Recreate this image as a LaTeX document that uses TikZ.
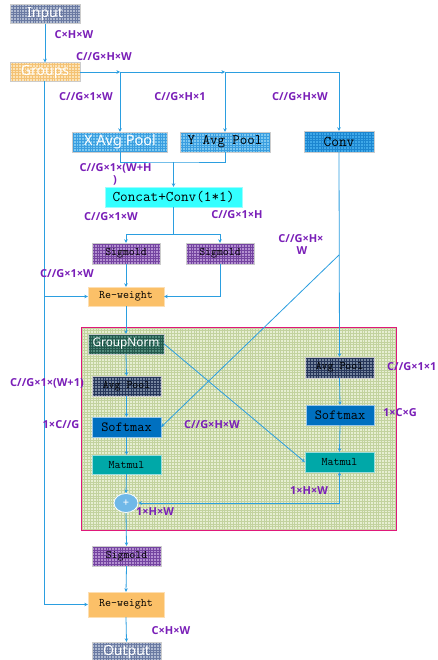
\documentclass[tikz,border=0pt]{standalone}
\usepackage{fontspec}
\usetikzlibrary{arrows.meta,shapes.geometric}
\newfontfamily\wfont{Noto Sans}
\newfontfamily\lfont{Open Sans}
\definecolor{lnblue}{HTML}{2B9EE0}
\definecolor{lblpurple}{HTML}{7A1FB8}
\definecolor{inpbase}{HTML}{AEB9D0}
\definecolor{inpgrid}{HTML}{6A7AA2}
\definecolor{grpbase}{HTML}{FCE3B6}
\definecolor{grpgrid}{HTML}{F4C274}
\definecolor{apbase}{HTML}{7DC8F0}
\definecolor{apgrid}{HTML}{3A9EE0}
\definecolor{convbase}{HTML}{3FA8E8}
\definecolor{convgrid}{HTML}{1C86D0}
\definecolor{catcol}{HTML}{33FFFF}
\definecolor{sigbase}{HTML}{B38FD0}
\definecolor{siggrid}{HTML}{7444A0}
\definecolor{rwcol}{HTML}{FBC068}
\definecolor{gnbase}{HTML}{4E8A7A}
\definecolor{gngrid}{HTML}{24584C}
\definecolor{dapbase}{HTML}{76869F}
\definecolor{dapgrid}{HTML}{27375A}
\definecolor{smcol}{HTML}{0070C0}
\definecolor{mmcol}{HTML}{00A8A8}
\definecolor{pluscol}{HTML}{70B8E8}
\definecolor{boxbase}{HTML}{E6EED2}
\definecolor{boxgrid}{HTML}{C2D29E}
\definecolor{boxborder}{HTML}{E0187A}
\tikzset{
  gridfill/.style 2 args={fill=#1, path picture={\draw[#2, line width=0.35pt, step=2.8pt] (path picture bounding box.south west) grid (path picture bounding box.north east);}},
  blk/.style={rectangle, inner sep=0pt, draw=white!60!gray, line width=0.4pt},
  wtxt/.style={text=white, font=\wfont\fontsize{14}{16}\selectfont},
  ttxt/.style={text=black, font=\ttfamily\fontsize{#1}{#1}\selectfont},
  conn/.style={draw=lnblue, line width=0.8pt},
  arr/.style={conn, -{Stealth[length=3.5pt,width=3.5pt]}},
  lbl/.style={text=lblpurple, font=\lfont\bfseries\fontsize{11}{12}\selectfont, inner sep=0pt},
}
\begin{document}
\begin{tikzpicture}[x=1pt,y=-1pt]
\useasboundingbox (0,0) rectangle (438,660);
\fill[white] (0,0) rectangle (438,660);
% big attention box
\node[rectangle, draw=boxborder, line width=1pt, gridfill={boxbase}{boxgrid}, minimum width=315pt, minimum height=203pt, inner sep=0pt] (bigbox) at (238.5,428.5) {};
% nodes
\node[blk, gridfill={inpbase}{inpgrid}, minimum width=70pt, minimum height=19pt, wtxt] (inp) at (45,14) {Input};
\node[blk, gridfill={grpbase}{grpgrid}, minimum width=70pt, minimum height=19pt, wtxt] (grp) at (45,72) {Groups};
\node[blk, gridfill={apbase}{apgrid}, minimum width=95pt, minimum height=20pt, wtxt, font=\wfont\fontsize{14.5}{16}\selectfont] (xap) at (120,142) {X Avg Pool};
\node[blk, gridfill={apbase}{apgrid}, minimum width=90pt, minimum height=20pt, ttxt=14.5] (yap) at (225,142) {Y Avg Pool};
\node[blk, gridfill={convbase}{convgrid}, minimum width=70pt, minimum height=21pt, ttxt=15] (conv) at (339,141.5) {Conv};
\node[blk, fill=catcol, draw=white!50!catcol, minimum width=137pt, minimum height=20pt, ttxt=14.8] (cat) at (173.5,197) {Concat+Conv(1*1)};
\node[blk, gridfill={sigbase}{siggrid}, minimum width=68pt, minimum height=21pt, ttxt=11.5] (sig1) at (126,253.5) {Sigmold};
\node[blk, gridfill={sigbase}{siggrid}, minimum width=68pt, minimum height=21pt, ttxt=11.5] (sig2) at (220,253.5) {Sigmold};
\node[blk, fill=rwcol, draw=white!50!rwcol, minimum width=76pt, minimum height=19pt, ttxt=11.6] (rw1) at (126,296.5) {Re-weight};
\node[blk, gridfill={gnbase}{gngrid}, minimum width=76pt, minimum height=20pt, wtxt, font=\wfont\fontsize{11.8}{14}\selectfont] (gn) at (126,344) {GroupNorm};
\node[blk, gridfill={dapbase}{dapgrid}, minimum width=69pt, minimum height=20pt, ttxt=11.5] (ap1) at (126.5,386) {Avg Pool};
\node[blk, fill=smcol, draw=white!60!smcol, minimum width=69pt, minimum height=20pt, ttxt=14] (sm1) at (126.5,427) {Softmax};
\node[blk, fill=mmcol, draw=white!60!mmcol, minimum width=69pt, minimum height=19pt, ttxt=11.6] (mm1) at (126.5,464.5) {Matmul};
\node[ellipse, fill=pluscol, draw=white, line width=0.8pt, minimum width=24pt, minimum height=19pt, inner sep=0pt, text=white, font=\wfont\fontsize{11}{12}\selectfont] (plus) at (126,503) {+};
\node[blk, gridfill={sigbase}{siggrid}, minimum width=69pt, minimum height=20pt, ttxt=11.5] (sig3) at (126.5,556) {Sigmold};
\node[blk, fill=rwcol, draw=white!50!rwcol, minimum width=76pt, minimum height=25pt, ttxt=11.6] (rw2) at (126,604.5) {Re-weight};
\node[blk, gridfill={inpbase}{inpgrid}, minimum width=69pt, minimum height=20pt, wtxt] (out) at (126.5,652) {Output};
\node[blk, gridfill={dapbase}{dapgrid}, minimum width=69pt, minimum height=21pt, ttxt=11.5] (ap2) at (339.5,367.5) {Avg Pool};
\node[blk, fill=smcol, draw=white!60!smcol, minimum width=68pt, minimum height=20pt, ttxt=14] (sm2) at (340,415) {Softmax};
\node[blk, fill=mmcol, draw=white!60!mmcol, minimum width=69pt, minimum height=20pt, ttxt=11.6] (mm2) at (339.5,462) {Matmul};
% junction coordinates
\coordinate (j1) at (xap.north |- grp.east);
\coordinate (j2) at (yap.north |- grp.east);
\coordinate (m1) at (cat.north |- 0,162);
\coordinate (m2) at (cat.south |- 0,234);
\coordinate (d1) at (conv.south |- 0,255);
\coordinate (lft) at (44,81);
% connectors
\draw[arr] (inp.south) -- (grp.north);
\draw[arr] (grp.east) -- (j1);
\draw[arr] (j1) -- (j2);
\draw[arr] (j2) -| (conv.north);
\draw[arr] (j1) -- (xap.north);
\draw[arr] (j2) -- (yap.north);
\draw[conn] (xap.south) |- (m1) -| (yap.south);
\draw[arr] (m1) -- (cat.north);
\draw[conn] (cat.south) -- (m2);
\draw[arr] (m2) -| (sig1.north);
\draw[arr] (m2) -| (sig2.north);
\draw[arr] (sig1.south) -- (rw1.north);
\draw[arr] (sig2.south) |- (rw1.east);
\draw[arr] (lft) |- (rw2.west);
\draw[arr] (lft |- rw1.west) -- (rw1.west);
\draw[arr] (rw1.south) -- (gn.north);
\draw[arr] (gn.south) -- (ap1.north);
\draw[arr] (ap1.south) -- (sm1.north);
\draw[arr] (sm1.south) -- (mm1.north);
\draw[arr] (mm1.south) -- (plus.north);
\draw[arr] (plus.south) -- (sig3.north);
\draw[arr] (sig3.south) -- (rw2.north);
\draw[arr] (rw2.south) -- (out.north);
\draw[arr] (conv.south) -- (ap2.north);
\draw[arr] (ap2.south) -- (sm2.north);
\draw[arr] (sm2.south) -- (mm2.north);
\draw[arr] (d1) -- (sm1.east);
\draw[arr] (gn.east) -- (mm2.west);
\draw[conn, {Stealth[length=3.5pt,width=3.5pt]}-{Stealth[length=3.5pt,width=3.5pt]}] (mm2.south) |- (plus.east);
% labels
\node[lbl] (l1) at (74,35) {C×H×W};
\node[lbl] (l2) at (104,57) {C//G×H×W};
\node[lbl] (l3) at (86,97) {C//G×1×W};
\node[lbl] (l4) at (180,97) {C//G×H×1};
\node[lbl] (l5) at (300,97) {C//G×H×W};
\node[lbl] (l6) at (115.5,168) {C//G×1×(W+H};
\node[lbl] (l6b) at (115,180) {)};
\node[lbl] (l7) at (111,217) {C//G×1×W};
\node[lbl] (l8) at (237,215) {C//G×1×H};
\node[lbl] (l9) at (301,239) {C//G×H×};
\node[lbl] (l9b) at (302,251) {W};
\node[lbl] (l10) at (67,274) {C//G×1×W};
\node[lbl] (l11) at (47,383) {C//G×1×(W+1)};
\node[lbl] (l12) at (61,425) {1×C//G};
\node[lbl] (l13) at (212,425) {C//G×H×W};
\node[lbl, anchor=west] (l14) at (387,367) {C//G×1×1};
\node[lbl] (l15) at (400,413) {1×C×G};
\node[lbl] (l16) at (309,491) {1×H×W};
\node[lbl] (l17) at (155,512) {1×H×W};
\node[lbl] (l18) at (171,631) {C×H×W};
\end{tikzpicture}
\end{document}
